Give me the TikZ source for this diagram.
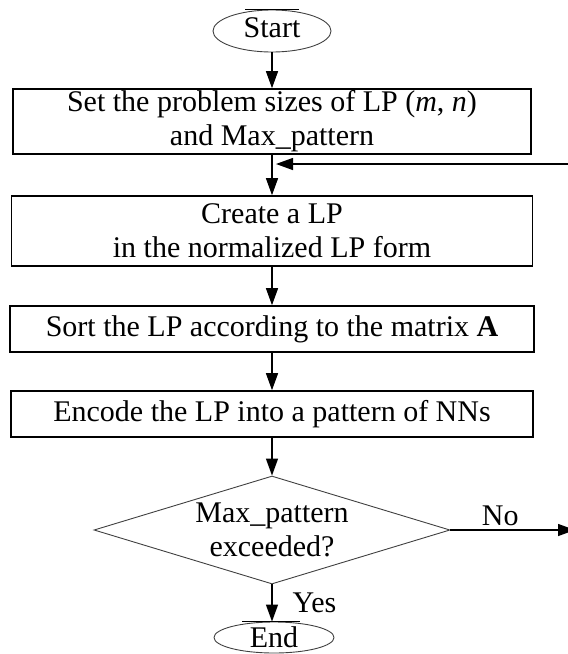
\documentclass[tikz,border=0pt]{standalone}
\usepackage{fontspec}
\setmainfont{Liberation Serif}
\usetikzlibrary{shapes.geometric,arrows.meta}
\begin{document}
\begin{tikzpicture}[x=1pt,y=-1pt,
  font=\fontsize{30}{34}\selectfont,
  box/.style={draw, line width=1.6pt, inner sep=0pt, align=center},
  term/.style={draw=black!75, line width=0.9pt, ellipse, inner sep=0pt},
  decision/.style={draw=black!75, line width=0.9pt, diamond, shape aspect=3.3,
    inner sep=0pt, align=center},
  flow/.style={line width=1.3pt, -{Triangle[length=17pt,width=12pt]}},
  lbl/.style={inner sep=0pt}
]
\clip (0,0) rectangle (568,654);

% process chain
\node[term, minimum width=118pt, minimum height=42pt, text depth=6.3pt] (start) at (272,31) {Start};
\node[box, minimum width=518pt, minimum height=65pt] (size) at (272,121.5)
  {Set the problem sizes of LP (\textit{m}, \textit{n})\\and Max\_pattern};
\node[box, minimum width=521pt, minimum height=70pt] (create) at (272,231)
  {Create a LP\\in the normalized LP form};
\node[box, minimum width=524pt, minimum height=46pt] (sort) at (272,329)
  {Sort the LP according to the matrix \textbf{A}};
\node[box, minimum width=522pt, minimum height=46pt] (encode) at (272,414)
  {Encode the LP into a pattern of NNs};
\node[decision, minimum width=356pt, minimum height=108pt] (check) at (272,530)
  {Max\_pattern\\exceeded?};
\node[term, minimum width=120pt, minimum height=31pt, text depth=0pt] (stop) at (274,637.5) {End};

% flat caps on the terminators
\draw[line width=1.5pt] ([xshift=-27pt]start.north) -- ([xshift=27pt]start.north);
\draw[line width=1.5pt] ([xshift=-32pt]stop.north) -- ([xshift=26pt]stop.north);

% connectors
\draw[flow] (start) -- (size);
\draw[flow] (size) -- (create);
\draw[flow] (create) -- (sort);
\draw[flow] (sort) -- (encode);
\draw[flow] (encode) -- (check);
\draw[flow] (check.south) -- node[lbl, right, xshift=20pt] (yes) {Yes} (check.south |- stop.north);

% loop back from the "No" branch
\coordinate (noout) at (575,530);
\coordinate (loopin) at (580,164);
\draw[flow] (check.east) -- node[lbl, above, pos=0.4, yshift=4pt] (no) {No} (noout);
\draw[flow] (loopin) -- ([xshift=4pt]size.south |- loopin);
\end{tikzpicture}
\end{document}
